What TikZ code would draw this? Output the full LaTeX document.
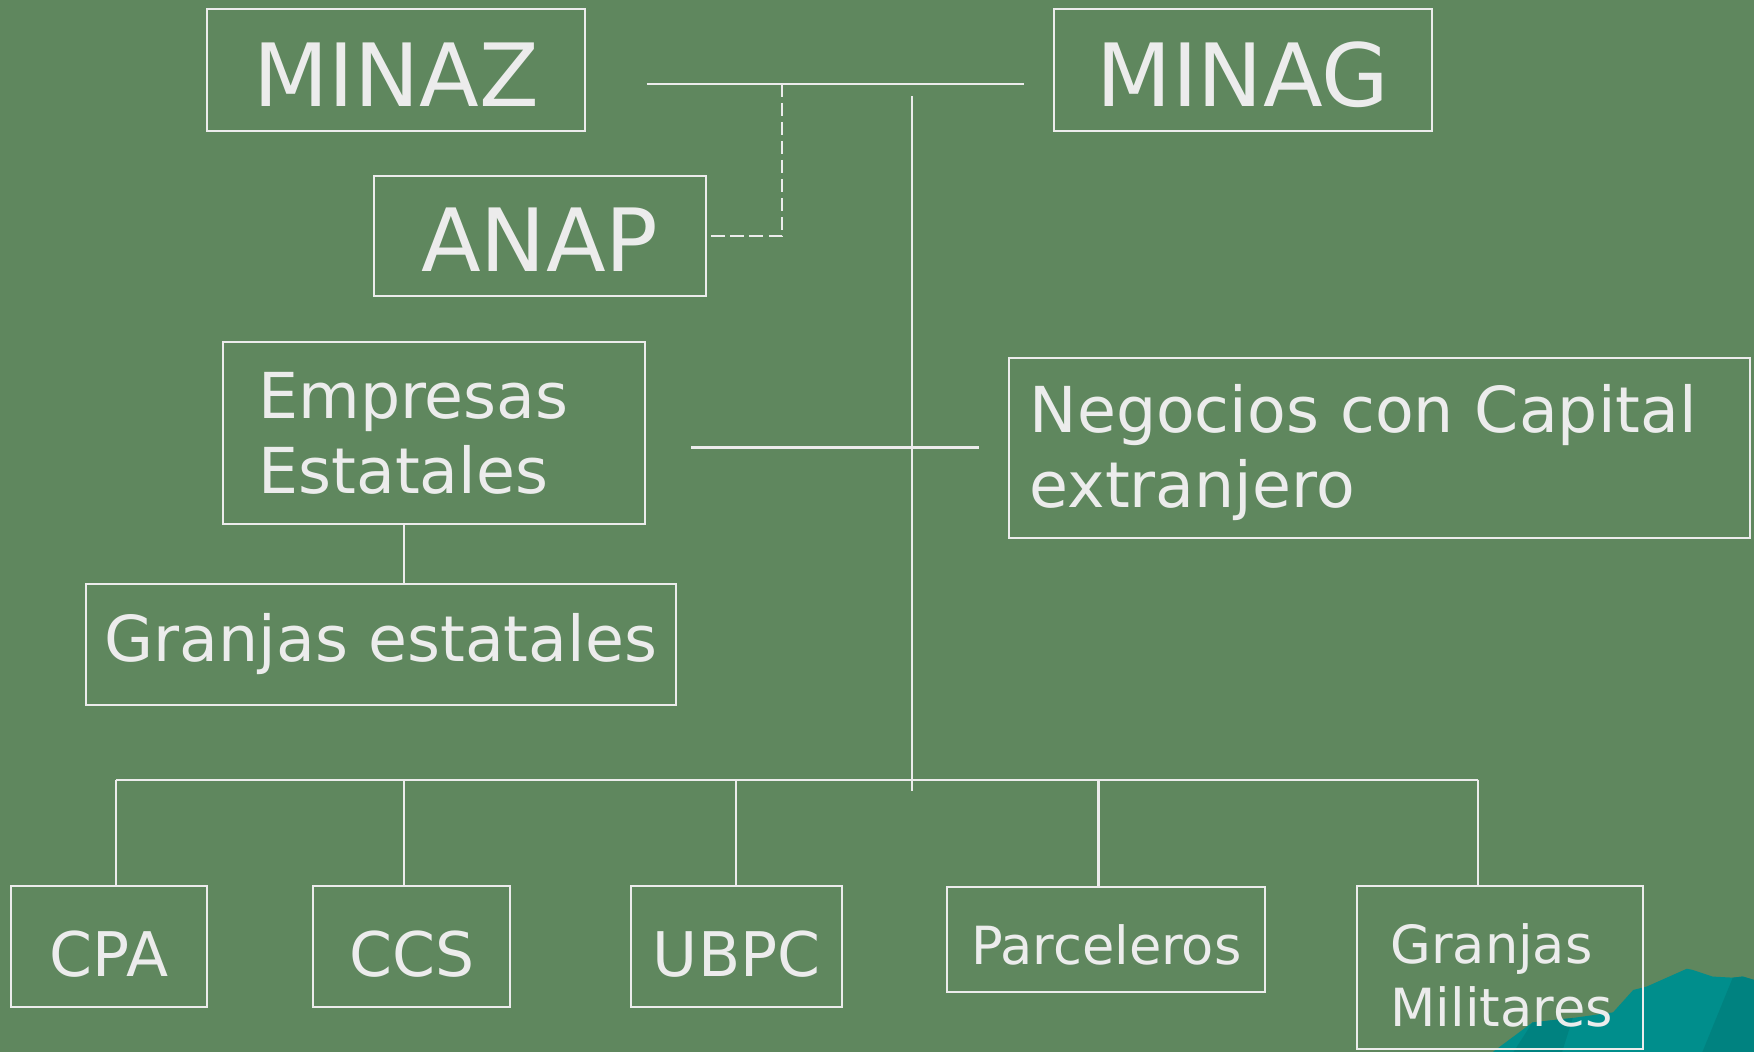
\documentclass[tikz,border=0pt]{standalone}
\usepackage{fontspec}
\setmainfont{DejaVu Sans}
\definecolor{bg}{RGB}{95,135,94}
\definecolor{ln}{RGB}{236,236,236}
\definecolor{tealA}{RGB}{0,142,140}
\definecolor{tealB}{RGB}{0,130,128}
\begin{document}
\begin{tikzpicture}[x=0.5pt,y=-0.5pt,
  box/.style={draw=ln, line width=0.9pt, text=ln, inner sep=0pt},
  big/.style={font=\fontsize{39}{46}\selectfont},
  mid/.style={font=\fontsize{28.3}{33.5}\selectfont},
  lowtext/.style={font=\fontsize{27.5}{33}\selectfont},
  smalltext/.style={font=\fontsize{23.5}{28}\selectfont},
  conn/.style={draw=ln, line width=1pt},
  dashconn/.style={conn, dash pattern=on 6pt off 2.5pt}]
\useasboundingbox (0,0) rectangle (1568,940);
\clip (0,0) rectangle (1568,940);
\fill[bg] (0,0) rectangle (1568,940);
% teal decoration
\fill[tealA] (1335,945) -- (1335,940) -- (1370,914) -- (1406,910) -- (1442,905) -- (1460,885)
  -- (1472,882) -- (1490,874) -- (1508,866) -- (1513,867) -- (1531,873) -- (1549,874)
  -- (1558,873) -- (1568,876) -- (1568,945) -- cycle;
\fill[tealB] (1549,874) -- (1558,873) -- (1568,876) -- (1568,945) -- (1520,945) -- cycle;
\fill[tealB] (1370,914) -- (1406,910) -- (1395,945) -- (1350,945) -- cycle;
% nodes
\node[box,big,minimum width=169pt,minimum height=54.5pt,text height=32.5pt,text depth=0pt] (minaz) at (354,62.5) {MINAZ};
\node[box,big,minimum width=169pt,minimum height=54.5pt,text height=32.5pt,text depth=0pt] (minag) at (1111,62.5) {MINAG};
\node[box,big,minimum width=148.5pt,minimum height=54pt,text height=32pt,text depth=0pt] (anap) at (482.5,211) {ANAP};
\node[box,mid,minimum width=189pt,minimum height=81pt,inner xsep=16pt,text width=157pt,align=left] (emp) at (388,387) {Empresas\\Estatales};
\node[box,mid,minimum width=331pt,minimum height=80.5pt,inner xsep=9.25pt,text width=312.5pt,align=left] (neg) at (1233,400.5) {\rule{0pt}{25.5pt}Negocios con Capital\\extranjero};
\node[box,mid,minimum width=263.5pt,minimum height=54pt] (gre) at (340.5,576) {Granjas estatales};
\node[box,lowtext,minimum width=87.5pt,minimum height=54pt,text height=27pt,text depth=0pt] (cpa) at (97.5,846) {CPA};
\node[box,lowtext,minimum width=88pt,minimum height=54pt,text height=27pt,text depth=0pt] (ccs) at (368,846) {CCS};
\node[box,lowtext,minimum width=94.5pt,minimum height=54pt,text height=27pt,text depth=0pt] (ubpc) at (658.5,846) {UBPC};
\node[box,smalltext,minimum width=142pt,minimum height=47pt,text height=23pt,text depth=0pt] (par) at (989,839.5) {Parceleros};
\node[box,smalltext,minimum width=128pt,minimum height=73pt,inner xsep=15pt,text width=98pt,align=left] (gm) at (1341,865) {\rule{0pt}{24.9pt}Granjas\\Militares};
% free ends
\coordinate (t1) at (578,75);
\coordinate (t2) at (915,75);
\coordinate (dt) at (699,75);
\coordinate (v1) at (815,86);
\coordinate (v2) at (815,707);
\coordinate (h1) at (618,400);
\coordinate (h2) at (875,400);
\coordinate (ge) at (361,495);
\coordinate (b1) at (104,697);
\coordinate (b2) at (1321,697);
\coordinate (d2) at (361,697);
\coordinate (d3) at (658,697);
\coordinate (d4) at (982,697);
% connectors
\draw[conn] (t1) -- (t2);
\draw[dashconn] (dt) |- (anap.east);
\draw[conn] (v1) -- (v2);
\draw[conn] (h1) -- (h2);
\draw[conn] (ge |- emp.south) -- (ge |- gre.north);
\draw[conn] (b1) -- (b2);
\draw[conn] (b1) -- (b1 |- cpa.north);
\draw[conn] (d2) -- (d2 |- ccs.north);
\draw[conn] (d3) -- (d3 |- ubpc.north);
\draw[conn] (d4) -- (d4 |- par.north);
\draw[conn] (b2) -- (b2 |- gm.north);
\end{tikzpicture}
\end{document}
